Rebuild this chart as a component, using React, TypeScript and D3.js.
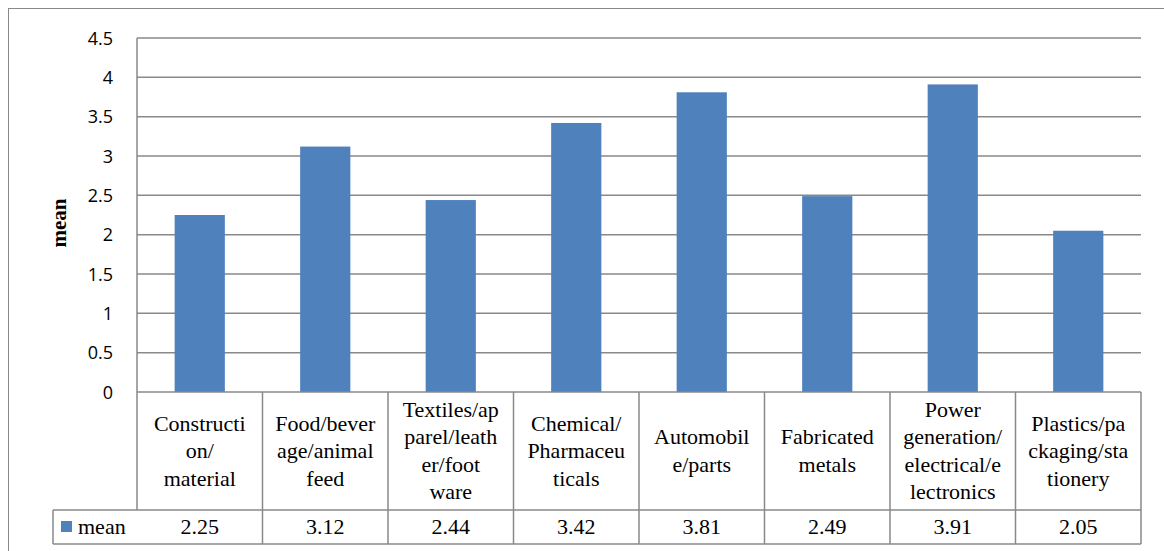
import { useMemo } from "react";
import * as d3 from "d3";

// sector labels, wrapped the way the table shows them
const categoryLines: string[][] = [
  ["Constructi", "on/", "material"],
  ["Food/bever", "age/animal", "feed"],
  ["Textiles/ap", "parel/leath", "er/foot", "ware"],
  ["Chemical/", "Pharmaceu", "ticals"],
  ["Automobil", "e/parts"],
  ["Fabricated", "metals"],
  ["Power", "generation/", "electrical/e", "lectronics"],
  ["Plastics/pa", "ckaging/sta", "tionery"],
];
const categories = categoryLines.map((l) => l.join(""));
const meanValues = [2.25, 3.12, 2.44, 3.42, 3.81, 2.49, 3.91, 2.05];
const yTicks = [0, 0.5, 1, 1.5, 2, 2.5, 3, 3.5, 4, 4.5];
const seriesName = "mean";

const W = 1164;
const H = 551;
const plot = { left: 137, right: 1141, top: 38, bottom: 392 };
const catRowBottom = 510;
const valRowBottom = 544;
const legendLeft = 53;
const barColor = "#4F81BD";
const gridColor = "#898989";

export default function App() {
  const x = useMemo(
    () => d3.scaleBand<string>().domain(categories).range([plot.left, plot.right]).padding(0),
    []
  );
  const y = useMemo(
    () => d3.scaleLinear().domain([0, 4.5]).range([plot.bottom, plot.top]),
    []
  );
  const bw = x.bandwidth();
  const barW = bw * 0.4;
  const catMid = (plot.bottom + catRowBottom) / 2;
  const valMid = (catRowBottom + valRowBottom) / 2;
  const lineH = 27.5;

  return (
    <div style={{ fontFamily: "Times New Roman", position: "absolute", left: 0, top: 0 }}>
      <svg width={W} height={H} style={{ display: "block", background: "#fff" }}>
        {/* chart frame (runs off the right and bottom) */}
        <rect x={8.5} y={8.5} width={W + 20} height={H + 20} fill="#fff" stroke={gridColor} strokeWidth={1} />

        {/* gridlines */}
        {yTicks.slice(1).map((t) => (
          <line key={t} x1={plot.left} x2={plot.right} y1={y(t)} y2={y(t)} stroke={gridColor} strokeWidth={1.5} />
        ))}

        {/* bars */}
        {meanValues.map((v, i) => {
          const cx = x(categories[i])! + bw / 2;
          return (
            <rect key={i} x={cx - barW / 2} y={y(v)} width={barW} height={y(0) - y(v)} fill={barColor} />
          );
        })}

        {/* y axis line */}
        <line x1={plot.left} x2={plot.left} y1={plot.top} y2={catRowBottom} stroke={gridColor} strokeWidth={1.5} />

        {/* data table */}
        <g stroke={gridColor} strokeWidth={1.5} fill="none">
          <line x1={plot.left} x2={plot.right} y1={plot.bottom} y2={plot.bottom} />
          <line x1={legendLeft} x2={plot.right} y1={catRowBottom} y2={catRowBottom} />
          <line x1={legendLeft} x2={plot.right} y1={valRowBottom} y2={valRowBottom} />
          <line x1={legendLeft} x2={legendLeft} y1={catRowBottom} y2={valRowBottom} />
          {categories.map((c) => (
            <line key={c} x1={x(c)! + bw} x2={x(c)! + bw} y1={plot.bottom} y2={valRowBottom} />
          ))}
        </g>

        <g fontFamily="Times New Roman" fontSize={22} fill="#000">
          {categoryLines.map((lines, i) => {
            const cx = x(categories[i])! + bw / 2;
            const start = catMid - ((lines.length - 1) * lineH) / 2;
            return (
              <text key={i} textAnchor="middle">
                {lines.map((ln, j) => (
                  <tspan key={j} x={cx} y={start + j * lineH + 7}>
                    {ln}
                  </tspan>
                ))}
              </text>
            );
          })}

          {meanValues.map((v, i) => (
            <text key={i} x={x(categories[i])! + bw / 2} y={valMid + 7} textAnchor="middle">
              {v.toFixed(2)}
            </text>
          ))}

          <text x={78} y={valMid + 7}>{seriesName}</text>

          {/* y title */}
          <text
            transform={`translate(66,${(plot.top + plot.bottom) / 2 + 8}) rotate(-90)`}
            textAnchor="middle"
            fontWeight="bold"
            fontSize={21}
          >
            mean
          </text>
        </g>

        {/* legend key */}
        <rect x={61} y={521} width={11} height={11} fill={barColor} />

        {/* tick labels */}
        {yTicks.map((t) => (
          <text key={t} x={113} y={y(t) + 6.5} textAnchor="end" fontFamily="Open Sans" fontSize={18}>
            {t}
          </text>
        ))}
      </svg>
    </div>
  );
}
